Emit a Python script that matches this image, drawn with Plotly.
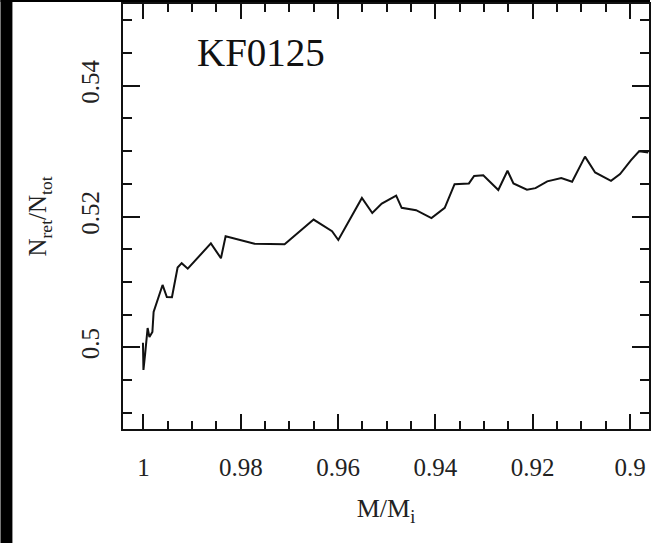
import plotly.graph_objects as go

# M/M_i (x) and N_ret/N_tot (y)
mass_ratio = [1.0001, 1.0000, 0.99965, 0.99914, 0.99877, 0.99816, 0.99791, 0.99607,
              0.99519, 0.99414, 0.99298, 0.99214, 0.99089, 0.98614, 0.98407, 0.98311,
              0.97717, 0.97099, 0.96503, 0.96124, 0.95995, 0.95510, 0.95297, 0.95102,
              0.94806, 0.94693, 0.94396, 0.94081, 0.93808, 0.93606, 0.93311, 0.93204,
              0.93016, 0.92707, 0.92518, 0.92396, 0.92119, 0.91943, 0.91701, 0.91413,
              0.91190, 0.90925, 0.90717, 0.90391, 0.90205, 0.89979, 0.89810, 0.89625]
n_ratio = [0.50069, 0.49653, 0.49898, 0.50295, 0.50157, 0.50234, 0.50540, 0.50953,
           0.50769, 0.50766, 0.51220, 0.51286, 0.51202, 0.51589, 0.51362, 0.51697,
           0.51584, 0.51576, 0.51953, 0.51774, 0.51641, 0.52283, 0.52054, 0.52197,
           0.52320, 0.52133, 0.52096, 0.51976, 0.52133, 0.52495, 0.52506, 0.52619,
           0.52631, 0.52405, 0.52700, 0.52506, 0.52410, 0.52434, 0.52537, 0.52587,
           0.52531, 0.52916, 0.52674, 0.52546, 0.52650, 0.52861, 0.52999, 0.52977]

x_tickvals = [1.0, 0.98, 0.96, 0.94, 0.92, 0.9]
x_ticktext = ["1", "0.98", "0.96", "0.94", "0.92", "0.9"]
y_tickvals = [0.5, 0.52, 0.54]
y_ticktext = ["0.5", "0.52", "0.54"]

W, H = 652, 543
L, R, T, B = 123, 1, 4, 114

fig = go.Figure()
fig.add_trace(go.Scatter(x=mass_ratio, y=n_ratio, mode="lines",
                         line=dict(color="#111111", width=2), showlegend=False))

font_family = "Liberation Serif"
fig.update_layout(
    width=W, height=H,
    margin=dict(l=L, r=R, t=T, b=B, pad=0),
    paper_bgcolor="white", plot_bgcolor="white",
    font=dict(family=font_family, color="#222222"),
    xaxis=dict(
        range=[1.0042, 0.8961], autorange=False,
        tickmode="array", tickvals=x_tickvals, ticktext=x_ticktext,
        ticks="inside", ticklen=15, tickwidth=2, tickcolor="#111111",
        minor=dict(dtick=0.005, tick0=0.9, ticks="inside", ticklen=8,
                   tickwidth=2, tickcolor="#111111"),
        showline=True, linewidth=2, linecolor="#111111", mirror="ticks",
        showgrid=False, zeroline=False,
        tickfont=dict(size=25, family=font_family),
        ticklabelstandoff=15,
        title=dict(text="M/M<sub>i</sub>", font=dict(size=26, family=font_family),
                   standoff=19),
    ),
    yaxis=dict(
        range=[0.4875, 0.5525], autorange=False,
        tickmode="array", tickvals=y_tickvals, ticktext=y_ticktext,
        ticks="inside", ticklen=17, tickwidth=2, tickcolor="#111111",
        minor=dict(dtick=0.005, tick0=0.5, ticks="inside", ticklen=9,
                   tickwidth=2, tickcolor="#111111"),
        showline=True, linewidth=2, linecolor="#111111", mirror="ticks",
        showgrid=False, zeroline=False,
        tickangle=-90,
        tickfont=dict(size=25, family=font_family),
        ticklabelstandoff=12,
        title=dict(text="N<sub>ret</sub>/N<sub>tot</sub>",
                   font=dict(size=25, family=font_family), standoff=23),
    ),
)

fig.add_annotation(text="KF0125", xref="paper", yref="paper",
                   x=(195 - L) / (W - L - R), y=(H - B - 53) / (H - T - B),
                   xanchor="left", yanchor="middle", showarrow=False,
                   font=dict(size=39, family=font_family, color="#111111"))

pw = W - L - R
ph = H - T - B
# black border strips of the original scan (left and top)
fig.add_shape(type="rect", xref="paper", yref="paper",
              x0=(0 - L) / pw, x1=(12 - L) / pw,
              y0=(H - B - H) / ph, y1=(H - B) / ph,
              fillcolor="black", line=dict(width=0), layer="above")
fig.add_shape(type="rect", xref="paper", yref="paper",
              x0=(0 - L) / pw, x1=(W - L) / pw,
              y0=(H - B - 2) / ph, y1=(H - B) / ph,
              fillcolor="black", line=dict(width=0), layer="above")

fig.write_html("out.html", config={"displayModeBar": False},
               post_script="document.body.style.margin='0';document.body.style.overflow='hidden';")
